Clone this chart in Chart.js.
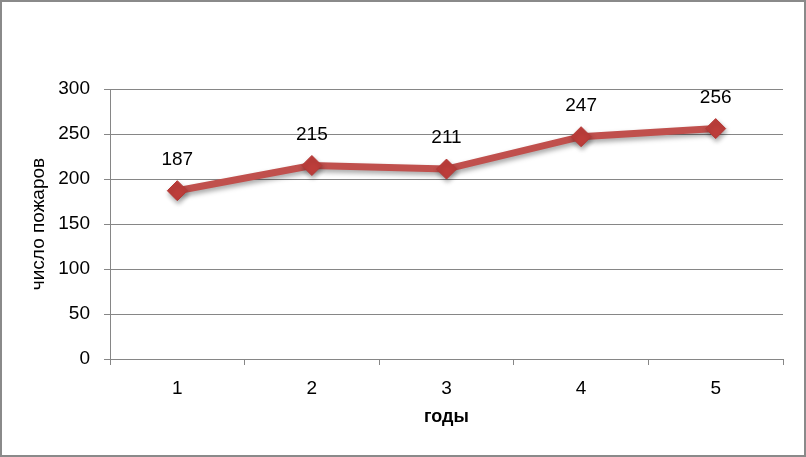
<!DOCTYPE html>
<html>
<head>
<meta charset="utf-8">
<script src="https://cdn.jsdelivr.net/npm/chart.js@4.4.0/dist/chart.umd.min.js"></script>
<style>
  html, body { margin: 0; padding: 0; background: #fff; }
  #wrap { width: 806px; height: 457px; box-sizing: border-box; border: 2px solid #8a8a8a; }
  canvas { display: block; }
</style>
</head>
<body>
<div id="wrap"><canvas id="fires" width="802" height="453"></canvas></div>
<script>
const years = ["1", "2", "3", "4", "5"];
const fires = [187, 215, 211, 247, 256];
const yTitle = "число пожаров";
const xTitle = "годы";

const axisGray = "#868686";
const lineRed = "#C0504D";
const font = "'Liberation Sans', Arial, sans-serif";

// value labels above the points
const valueLabels = {
  id: "valueLabels",
  afterDatasetsDraw(chart) {
    const ctx = chart.ctx;
    const meta = chart.getDatasetMeta(0);
    ctx.save();
    ctx.font = "19px " + font;
    ctx.fillStyle = "#000";
    ctx.textAlign = "center";
    ctx.textBaseline = "middle";
    meta.data.forEach((pt, i) => {
      ctx.fillText(fires[i], pt.x, pt.y - 31);
    });
    ctx.restore();
  }
};

// soft shadow under the line like the office chart
const lineShadow = {
  id: "lineShadow",
  beforeDatasetDraw(chart) {
    const ctx = chart.ctx;
    ctx.save();
    ctx.shadowColor = "rgba(0,0,0,0.35)";
    ctx.shadowBlur = 5;
    ctx.shadowOffsetX = 1;
    ctx.shadowOffsetY = 3;
  },
  afterDatasetDraw(chart) {
    chart.ctx.restore();
  }
};

new Chart(document.getElementById("fires"), {
  type: "line",
  data: {
    labels: years,
    datasets: [{
      data: fires,
      borderColor: lineRed,
      borderWidth: 7,
      tension: 0,
      pointStyle: "rectRot",
      pointRadius: 10,
      pointBackgroundColor: "#BE3E3B",
      pointBorderColor: "#B53835",
      pointBorderWidth: 1
    }]
  },
  options: {
    responsive: false,
    animation: false,
    layout: { padding: { left: 0, top: 87, right: 21, bottom: 0 } },
    plugins: {
      legend: { display: false },
      tooltip: { enabled: false }
    },
    scales: {
      x: {
        offset: true,
        afterFit: s => { s.height = 96; },
        grid: {
          offset: true,
          drawOnChartArea: false,
          tickLength: 6,
          color: axisGray
        },
        border: { color: axisGray },
        ticks: { color: "#000", padding: 12, font: { family: font, size: 19 } },
        title: {
          display: true,
          text: xTitle,
          color: "#000",
          padding: { top: 10, bottom: 27 },
          font: { family: font, size: 18, weight: "bold" }
        }
      },
      y: {
        min: 0,
        max: 300,
        afterFit: s => { s.width = 108; },
        grid: { color: axisGray, tickLength: 6 },
        border: { color: axisGray },
        ticks: { stepSize: 50, color: "#000", padding: 14, font: { family: font, size: 19 } },
        title: {
          display: true,
          text: yTitle,
          color: "#000",
          padding: { top: 25 },
          font: { family: font, size: 19 }
        }
      }
    }
  },
  plugins: [lineShadow, valueLabels]
});
</script>
</body>
</html>
